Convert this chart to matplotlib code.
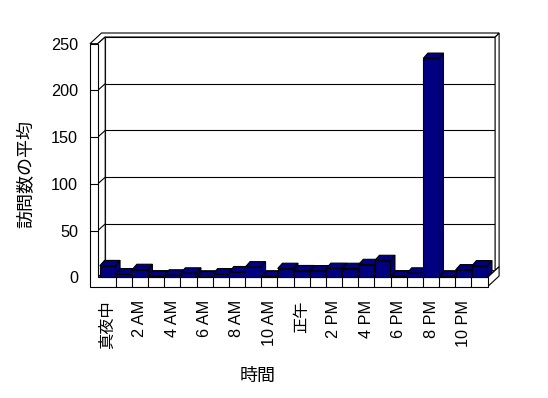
import matplotlib
matplotlib.use("Agg")
import matplotlib.pyplot as plt
from matplotlib.patches import Polygon

# ---- data ----
hours = list(range(24))
tick_labels = ["真夜中", "2 AM", "4 AM", "6 AM", "8 AM", "10 AM",
               "正午", "2 PM", "4 PM", "6 PM", "8 PM", "10 PM"]
visits = [12.5, 3.8, 8.4, 1.3, 2.5, 4.6, 0.6, 3.8, 6.0, 11.2, 0.8, 9.5,
          7.1, 7.0, 9.6, 9.5, 13.7, 18.0, 1.3, 4.6, 234.3, 0.8, 8.0, 12.3]
y_ticks = [0, 50, 100, 150, 200, 250]
y_label = "訪問数の平均"
x_label = "時間"

plt.rcParams['font.family'] = ['Liberation Sans', 'Noto Sans CJK JP', 'DejaVu Sans']

W, H = 548, 398
fig = plt.figure(figsize=(W / 100, H / 100), dpi=100)
fig.patch.set_facecolor("white")
# front plane of the 3D box
L_PX, R_PX, T_PX, B_PX = 99.5, 487.6, 43.7, 277.4
ax = fig.add_axes([L_PX / W, (H - B_PX) / H, (R_PX - L_PX) / W, (B_PX - T_PX) / H])
N = len(visits)
YMAX = y_ticks[-1]
ax.set_xlim(0, N)
ax.set_ylim(0, YMAX)
ax.patch.set_visible(False)
for s in ax.spines.values():
    s.set_visible(False)

PX = N / (R_PX - L_PX)      # data-x per pixel
PY = YMAX / (B_PX - T_PX)   # data-y per pixel
DX, DY = 7.5 * PX, 6.7 * PY     # box depth
TX, TY = 4.0 * PX, 4.0 * PY     # back wall thickness
WX_OUT, WX_IN = -9.5 * PX, -1.8 * PX
FLOOR = -9.3 * PY
BDX, BDY = 4.7 * PX, 5.3 * PY   # bar depth
BAR_W = 0.96
LW = 0.8
NAVY = "#000080"


def poly(pts, fc="white", z=1):
    p = Polygon(pts, closed=True, facecolor=fc, edgecolor="black",
                linewidth=LW, zorder=z, clip_on=False, joinstyle="miter")
    ax.add_patch(p)


def line(xs, ys, z=1.5):
    ax.plot(xs, ys, color="black", linewidth=LW, zorder=z, clip_on=False,
            solid_capstyle="butt")


# back wall inner face
poly([(WX_IN + DX, DY), (N + DX, DY), (N + DX, YMAX + DY), (WX_IN + DX, YMAX + DY)], z=1)
for v in y_ticks[1:-1]:
    line([WX_IN + DX, N + DX], [v + DY, v + DY], z=1.2)
# back wall right face
poly([(N + DX, DY), (N + DX, YMAX + DY), (N + DX + TX, YMAX + DY + TY), (N + DX + TX, DY + TY)], z=1.3)
# wall tops
poly([(WX_OUT, YMAX), (WX_IN, YMAX), (WX_IN + DX, YMAX + DY), (N + DX, YMAX + DY),
      (N + DX + TX, YMAX + DY + TY), (WX_OUT + DX + TX, YMAX + DY + TY)], z=1.4)
# side wall inner face
poly([(WX_IN, 0), (WX_IN, YMAX), (WX_IN + DX, YMAX + DY), (WX_IN + DX, DY)], z=1.5)
for v in y_ticks[1:-1]:
    line([WX_IN, WX_IN + DX], [v, v + DY], z=1.6)
# floor top
poly([(WX_IN, 0), (N, 0), (N + DX, DY), (WX_IN + DX, DY)], z=2)
# floor right face
poly([(N, FLOOR), (N, 0), (N + DX + TX, DY + TY), (N + DX + TX, FLOOR + DY + TY)], z=2.1)
# side wall front + floor front
poly([(WX_OUT, FLOOR), (N, FLOOR), (N, 0), (WX_IN, 0), (WX_IN, YMAX), (WX_OUT, YMAX)], z=2.2)
for v in y_ticks[1:-1]:
    line([WX_OUT, WX_IN], [v, v], z=2.3)
for i in range(1, N):
    line([i, i], [FLOOR, 0], z=2.3)

# bars
for i, v in zip(hours, visits):
    x0 = i + (1 - BAR_W) / 2
    x1 = x0 + BAR_W
    z = 10 + i * 0.1
    poly([(x1, 0), (x1, v), (x1 + BDX, v + BDY), (x1 + BDX, BDY)], fc=NAVY, z=z)
    poly([(x0, v), (x1, v), (x1 + BDX, v + BDY), (x0 + BDX, v + BDY)], fc=NAVY, z=z + 0.01)
    ax.bar(i + 0.5, v, width=BAR_W, color=NAVY, edgecolor="black",
           linewidth=LW, zorder=z + 0.02, clip_on=False)

ax.set_yticks(y_ticks)
ax.set_yticklabels([str(t) for t in y_ticks], fontsize=11.7)
ax.tick_params(axis="y", length=0, pad=15.3)
ax.set_xticks([i + 0.5 for i in hours[::2]])
ax.set_xticklabels(tick_labels, rotation=90, fontsize=11.7)
ax.tick_params(axis="x", length=0, pad=16.3)

fig.text(26.7 / W, 1 - 174 / H, y_label, rotation=90, ha="center", va="center", fontsize=13)
fig.text(258 / W, 1 - 376 / H, x_label, ha="center", va="center", fontsize=13)

fig.savefig("out.png", dpi=100, facecolor="white")
